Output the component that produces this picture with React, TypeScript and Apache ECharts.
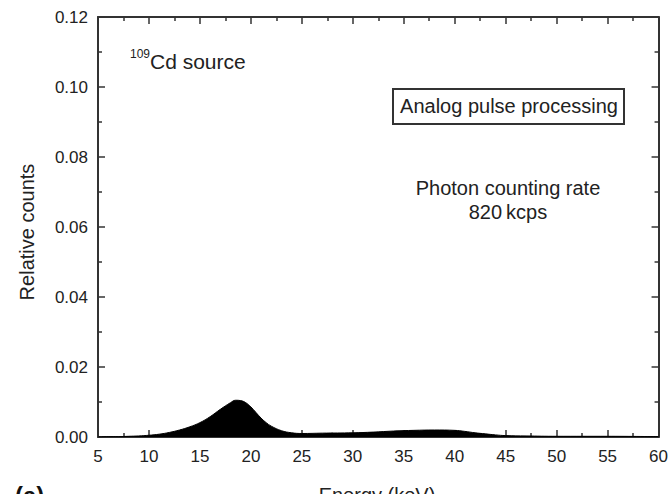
import React, { useEffect, useRef } from "react";
import * as echarts from "echarts";

const energy = [5, 6, 7, 8, 9, 10, 11, 12, 13, 14, 15, 16, 17, 18, 18.5, 19, 19.5, 20, 20.5, 21, 21.5, 22, 23, 24, 25, 27, 30, 32, 34, 36, 38, 40, 41, 42, 43, 44, 45, 47, 50, 55, 60];
const counts = [0.0, 0.0001, 0.0001, 0.0002, 0.0003, 0.0005, 0.0008, 0.0013, 0.002, 0.0029, 0.0041, 0.0058, 0.0079, 0.0098, 0.0105, 0.0104, 0.0098, 0.0086, 0.0070, 0.0054, 0.0041, 0.0031, 0.0018, 0.0012, 0.001, 0.0011, 0.0012, 0.0014, 0.0017, 0.0019, 0.002, 0.0019, 0.0016, 0.0012, 0.0009, 0.0006, 0.0004, 0.0003, 0.0002, 0.0002, 0.0001];

const xTicks = { min: 5, max: 60, interval: 5 };
const yTicks = { min: 0, max: 0.12, interval: 0.02 };

const axisColor = "#333";
const textColor = "#222";
const font = "Liberation Sans, Arial, Helvetica, sans-serif";

export default function App() {
  const ref = useRef<HTMLDivElement>(null);
  useEffect(() => {
    if (!ref.current) return;
    const chart = echarts.init(ref.current, null, { renderer: "svg" });
    const data = energy.map((e, i) => [e, counts[i]]);
    const commonAxis = {
      axisLine: { show: true, onZero: false, lineStyle: { color: axisColor, width: 2 } },
      axisTick: { show: true, inside: true, length: 7, lineStyle: { color: axisColor, width: 1.5 } },
      minorTick: { show: true, splitNumber: 2, length: 4, lineStyle: { color: axisColor, width: 1.5 } },
      splitLine: { show: false },
      minorSplitLine: { show: false },
    };
    const txt = (text: string, x: number, y: number, size: number, extra: any = {}) => ({
      type: "text",
      x,
      y,
      style: {
        text,
        fontSize: size,
        fontFamily: font,
        fill: textColor,
        align: "center",
        verticalAlign: "middle",
        ...extra,
      },
    });
    chart.setOption({
      animation: false,
      backgroundColor: "#fff",
      grid: { left: 98, right: 11, top: 17, bottom: 57, containLabel: false },
      xAxis: [
        {
          type: "value",
          ...xTicks,
          position: "bottom",
          ...commonAxis,
          axisLabel: { color: textColor, fontSize: 17, fontFamily: font, margin: 11 },
        },
        {
          type: "value",
          ...xTicks,
          position: "top",
          ...commonAxis,
          axisLabel: { show: false },
        },
      ],
      yAxis: [
        {
          type: "value",
          ...yTicks,
          position: "left",
          ...commonAxis,
          axisLabel: {
            color: textColor,
            fontSize: 17,
            fontFamily: font,
            margin: 10,
            formatter: (v: number) => v.toFixed(2),
          },
        },
        {
          type: "value",
          ...yTicks,
          position: "right",
          ...commonAxis,
          axisLabel: { show: false },
        },
      ],
      series: [
        {
          type: "line",
          data,
          symbol: "none",
          smooth: 0.4,
          lineStyle: { color: "#000", width: 1 },
          areaStyle: { color: "#000", opacity: 1 },
        },
      ],
      graphic: [
        {
          type: "text",
          x: 27,
          y: 232,
          rotation: Math.PI / 2,
          style: {
            text: "Relative counts",
            fontSize: 20,
            fontFamily: font,
            fill: textColor,
            align: "center",
            verticalAlign: "middle",
          },
        },
        txt("109", 130, 54, 12, { align: "left" }),
        txt("Cd source", 150, 61, 21, { align: "left" }),
        {
          type: "rect",
          shape: { x: 393, y: 89, width: 231, height: 35 },
          style: { fill: "#fff", stroke: "#333", lineWidth: 2 },
        },
        txt("Analog pulse processing", 509, 106, 20),
        txt("Photon counting rate", 508, 188, 20),
        txt("820\u2009kcps", 508, 212, 20),
        txt("Energy (keV)", 377, 485, 20, { verticalAlign: "top" }),
        txt("(a)", 15, 483, 24, { verticalAlign: "top", align: "left", fontWeight: "bold", fill: "#111" }),
      ],
    });
    return () => chart.dispose();
  }, []);
  return (
    <div
      ref={ref}
      style={{ position: "absolute", left: 0, top: 0, width: 671, height: 494, background: "#fff" }}
    />
  );
}
